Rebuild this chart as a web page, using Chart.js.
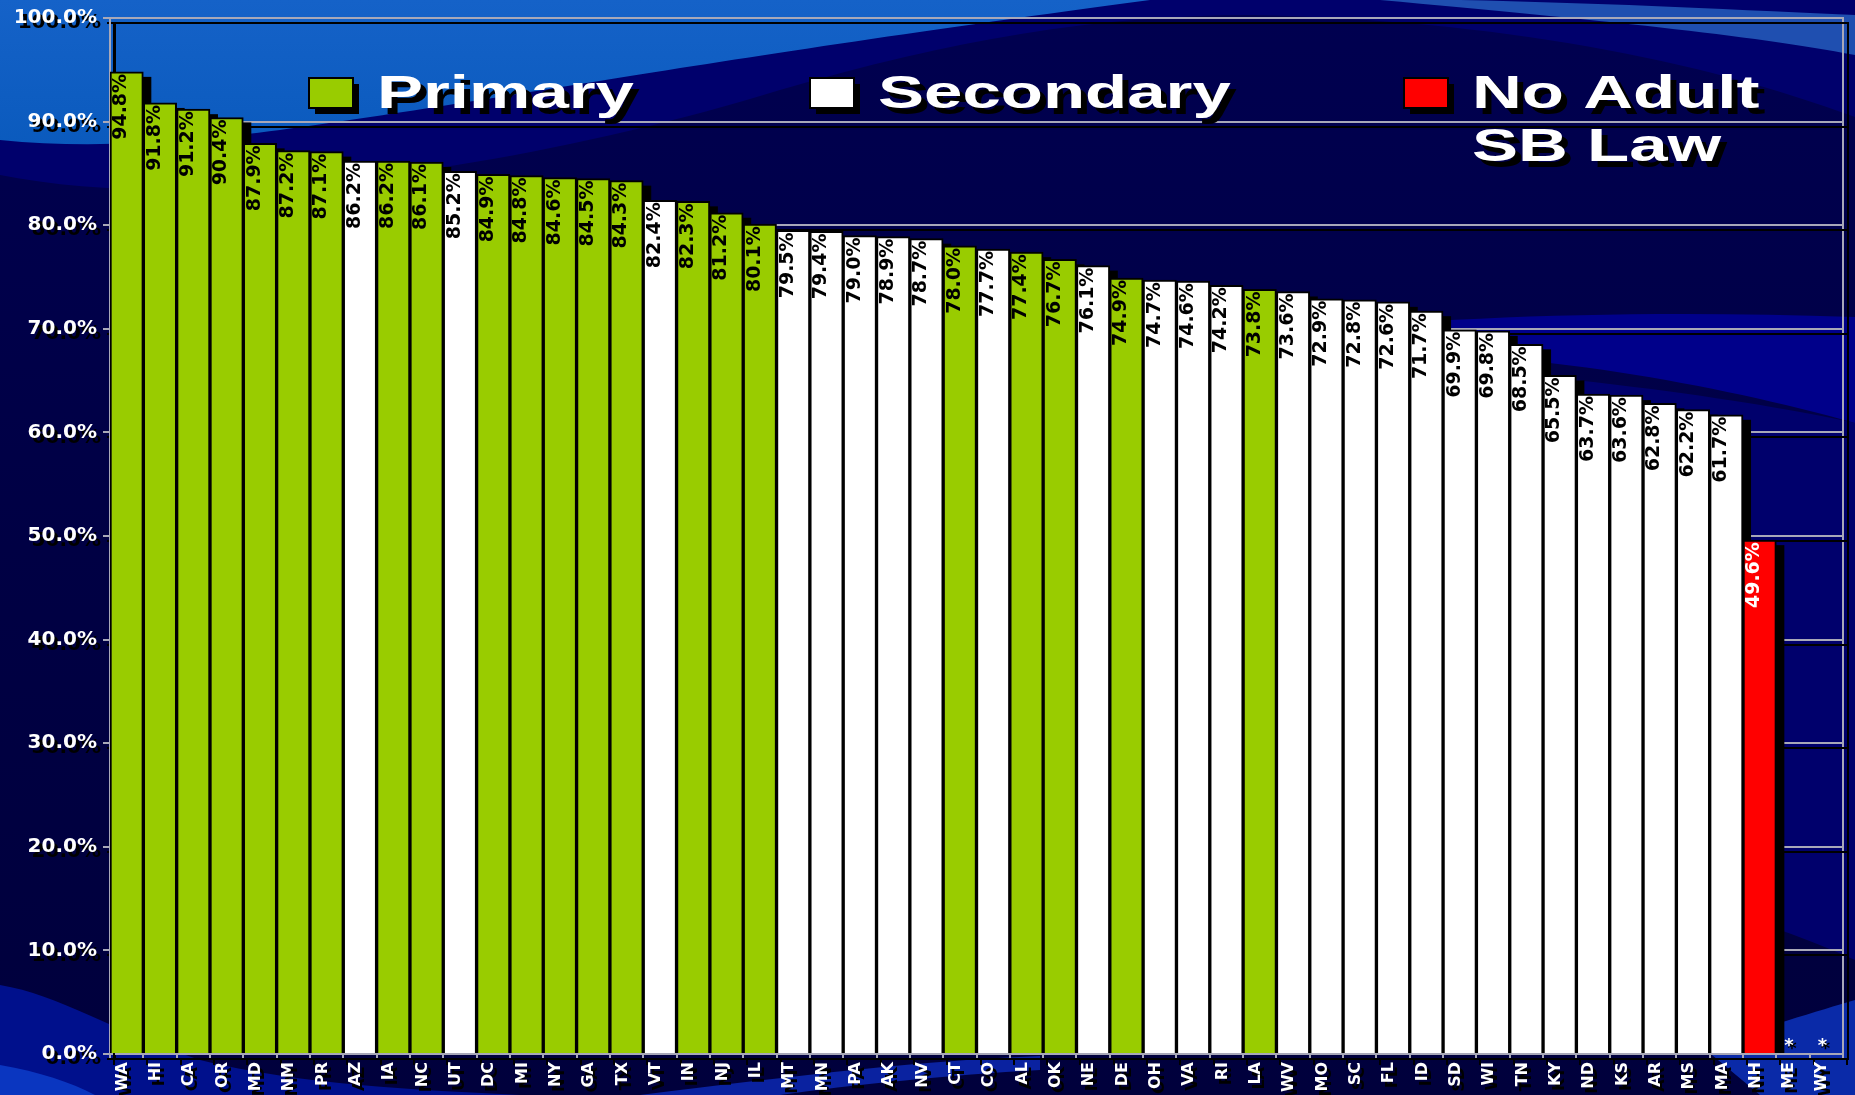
<!DOCTYPE html>
<html>
<head>
<meta charset="utf-8">
<script src="https://cdn.jsdelivr.net/npm/chart.js@4.4.1/dist/chart.umd.min.js"></script>
<style>
  html, body { margin: 0; padding: 0; background: #000044; }
  #wrap { width: 1855px; height: 1095px; position: relative; }
</style>
</head>
<body>
<div id="wrap"><canvas id="beltChart"></canvas></div>
<script>
// states, in the order shown (highest belt use first)
const states = ['WA','HI','CA','OR','MD','NM','PR','AZ','IA','NC','UT','DC','MI','NY','GA','TX',
  'VT','IN','NJ','IL','MT','MN','PA','AK','NV','CT','CO','AL','OK','NE','DE','OH','VA','RI','LA',
  'WV','MO','SC','FL','ID','SD','WI','TN','KY','ND','KS','AR','MS','MA','NH','ME','WY'];

// observed belt use, percent (ME and WY not reported)
const beltUse = [94.8, 91.8, 91.2, 90.4, 87.9, 87.2, 87.1, 86.2, 86.2, 86.1, 85.2, 84.9, 84.8, 84.6, 84.5, 84.3,
  82.4, 82.3, 81.2, 80.1, 79.5, 79.4, 79.0, 78.9, 78.7, 78.0, 77.7, 77.4, 76.7, 76.1, 74.9, 74.7, 74.6, 74.2, 73.8,
  73.6, 72.9, 72.8, 72.6, 71.7, 69.9, 69.8, 68.5, 65.5, 63.7, 63.6, 62.8, 62.2, 61.7, 49.6, null, null];

// kind of belt law in each state
const lawType = ['Primary','Primary','Primary','Primary','Primary','Primary','Primary','Secondary','Primary','Primary',
  'Secondary','Primary','Primary','Primary','Primary','Primary','Secondary','Primary','Primary','Primary',
  'Secondary','Secondary','Secondary','Secondary','Secondary','Primary','Secondary','Primary','Primary','Secondary',
  'Primary','Secondary','Secondary','Secondary','Primary','Secondary','Secondary','Secondary','Secondary','Secondary',
  'Secondary','Secondary','Secondary','Secondary','Secondary','Secondary','Secondary','Secondary','Secondary','None',
  'n/a','n/a'];

// legend entries (lines of text)
const legendNames = [['Primary'], ['Secondary'], ['No Adult', 'SB Law']];
const legendKeys = ['Primary', 'Secondary', 'None'];

const lawColors = { Primary: '#99cc00', Secondary: '#ffffff', None: '#ff0000', 'n/a': 'rgba(0,0,0,0)' };
const labelColors = { Primary: '#000000', Secondary: '#000000', None: '#ffffff' };

function paintBackdrop(ctx, w, h) {
  let g = ctx.createLinearGradient(0, 0, 0, h);
  g.addColorStop(0, '#000050');
  g.addColorStop(0.5, '#000044');
  g.addColorStop(1, '#00003c');
  ctx.fillStyle = g;
  ctx.fillRect(0, 0, w, h);

  // navy band across the top
  ctx.fillStyle = '#00006c';
  ctx.beginPath();
  ctx.moveTo(0, 0);
  ctx.lineTo(0, 175);
  ctx.bezierCurveTo(200, 215, 520, 170, 780, 90);
  ctx.bezierCurveTo(950, 40, 1100, 15, 1250, 15);
  ctx.bezierCurveTo(1500, 20, 1700, 60, w, 117);
  ctx.lineTo(w, 0);
  ctx.closePath();
  ctx.fill();

  // bright blue top-left
  g = ctx.createLinearGradient(0, 0, 0, 150);
  g.addColorStop(0, '#1562c8');
  g.addColorStop(1, '#0a5abd');
  ctx.fillStyle = g;
  ctx.beginPath();
  ctx.moveTo(0, 0);
  ctx.lineTo(0, 140);
  ctx.bezierCurveTo(100, 150, 200, 140, 280, 130);
  ctx.bezierCurveTo(500, 100, 700, 60, 1150, 0);
  ctx.closePath();
  ctx.fill();

  // light stripe top-right
  ctx.fillStyle = '#1f4fb0';
  ctx.beginPath();
  ctx.moveTo(1380, 0);
  ctx.bezierCurveTo(1600, 20, 1750, 35, w, 55);
  ctx.lineTo(w, 15);
  ctx.bezierCurveTo(1700, 8, 1600, 3, 1460, 0);
  ctx.closePath();
  ctx.fill();

  // blue wash down the right-hand side
  ctx.fillStyle = '#00006c';
  ctx.beginPath();
  ctx.moveTo(1300, 360);
  ctx.bezierCurveTo(1550, 370, 1750, 400, w, 423);
  ctx.lineTo(w, 960);
  ctx.bezierCurveTo(1800, 935, 1740, 915, 1680, 900);
  ctx.lineTo(1300, 900);
  ctx.closePath();
  ctx.fill();

  // sweeping band on the right
  ctx.fillStyle = '#00008a';
  ctx.beginPath();
  ctx.moveTo(950, 385);
  ctx.bezierCurveTo(1200, 330, 1500, 305, w, 317);
  ctx.lineTo(w, 423);
  ctx.bezierCurveTo(1700, 380, 1500, 345, 1300, 352);
  ctx.bezierCurveTo(1150, 358, 1050, 380, 950, 400);
  ctx.closePath();
  ctx.fill();

  // bottom-right wedge
  ctx.fillStyle = '#0a2aa8';
  ctx.beginPath();
  ctx.moveTo(1700, 1045);
  ctx.bezierCurveTo(1760, 1030, 1820, 1010, w, 1000);
  ctx.lineTo(w, h);
  ctx.lineTo(1760, h);
  ctx.closePath();
  ctx.fill();

  // bottom-left waves
  ctx.fillStyle = '#00108c';
  ctx.beginPath();
  ctx.moveTo(0, 985);
  ctx.bezierCurveTo(60, 995, 110, 1030, 200, 1060);
  ctx.bezierCurveTo(300, 1085, 420, 1090, 520, h);
  ctx.lineTo(0, h);
  ctx.closePath();
  ctx.fill();

  ctx.fillStyle = '#0a36c0';
  ctx.beginPath();
  ctx.moveTo(0, 1065);
  ctx.bezierCurveTo(40, 1072, 70, 1082, 95, h);
  ctx.lineTo(0, h);
  ctx.closePath();
  ctx.fill();

  // swoosh under the middle labels
  ctx.fillStyle = '#0a22a0';
  ctx.beginPath();
  ctx.moveTo(640, h);
  ctx.bezierCurveTo(800, 1075, 930, 1060, 1040, 1056);
  ctx.lineTo(1040, 1070);
  ctx.bezierCurveTo(950, 1075, 850, 1085, 780, h);
  ctx.closePath();
  ctx.fill();
}

const backdrop = {
  id: 'backdrop',
  beforeDraw(chart) {
    const ctx = chart.ctx;
    const a = chart.chartArea;
    ctx.save();
    paintBackdrop(ctx, chart.width, chart.height);
    ctx.restore();

    ctx.save();
    ctx.shadowColor = '#000';
    ctx.shadowOffsetX = 5;
    ctx.shadowOffsetY = 5;
    ctx.strokeStyle = '#a8a8b8';
    ctx.lineWidth = 2;
    ctx.strokeRect(a.left, a.top, a.right - a.left, a.bottom - a.top);
    ctx.restore();

    // scales (grid, ticks, labels) get a hard black drop shadow
    ctx.save();
    ctx.shadowColor = '#000';
    ctx.shadowBlur = 0;
    ctx.shadowOffsetX = 4;
    ctx.shadowOffsetY = 5;
  },
  beforeDatasetsDraw(chart) {
    const ctx = chart.ctx;
    ctx.restore();
    // black drop shadow behind every bar
    const meta = chart.getDatasetMeta(0);
    ctx.save();
    ctx.fillStyle = '#000000';
    meta.data.forEach((bar, i) => {
      if (beltUse[i] === null) return;
      const p = bar.getProps(['x', 'y', 'width', 'base'], true);
      ctx.fillRect(p.x - p.width / 2 + 8, p.y + 5, p.width, p.base - p.y - 5);
    });
    ctx.restore();
  }
};

const barLabels = {
  id: 'barLabels',
  afterDatasetsDraw(chart) {
    const ctx = chart.ctx;
    const meta = chart.getDatasetMeta(0);
    const xs = chart.scales.x, ys = chart.scales.y;
    ctx.save();
    meta.data.forEach((bar, i) => {
      const v = beltUse[i];
      const cx = xs.getPixelForValue(i);
      if (v === null) {
        ctx.save();
        ctx.font = 'bold 18px "DejaVu Sans"';
        ctx.fillStyle = '#ffffff';
        ctx.shadowColor = '#000';
        ctx.shadowOffsetX = 3;
        ctx.shadowOffsetY = 3;
        ctx.textAlign = 'center';
        ctx.textBaseline = 'alphabetic';
        ctx.fillText('*', cx - 4, ys.getPixelForValue(0) - 3);
        ctx.restore();
        return;
      }
      const left = bar.x - bar.width / 2;
      ctx.save();
      ctx.font = 'bold 19px "DejaVu Sans"';
      ctx.translate(left + 2, bar.y + 2);
      ctx.rotate(-Math.PI / 2);
      ctx.textAlign = 'right';
      ctx.textBaseline = 'top';
      ctx.fillStyle = labelColors[lawType[i]];
      ctx.fillText(v.toFixed(1) + '%', 0, 0);
      ctx.restore();
    });
    ctx.restore();
  }
};

const legendBox = {
  id: 'legendBox',
  afterDraw(chart) {
    const ctx = chart.ctx;
    const boxX = [309, 810, 1404];
    ctx.save();
    ctx.shadowColor = '#000';
    ctx.shadowBlur = 0;
    ctx.shadowOffsetX = 6;
    ctx.shadowOffsetY = 6;
    legendKeys.forEach((key, k) => {
      const x = boxX[k];
      ctx.fillStyle = lawColors[key];
      ctx.fillRect(x, 78, 44, 30);
      ctx.save();
      ctx.shadowColor = 'rgba(0,0,0,0)';
      ctx.strokeStyle = '#000';
      ctx.lineWidth = 2;
      ctx.strokeRect(x, 78, 44, 30);
      ctx.restore();
      ctx.font = 'bold 46px "Liberation Sans", Arial, sans-serif';
      ctx.fillStyle = '#ffffff';
      ctx.textBaseline = 'alphabetic';
      legendNames[k].forEach((line, j) => {
        ctx.save();
        ctx.translate(x + 68, 108 + j * 53);
        ctx.scale(1.5, 1);
        ctx.fillText(line, 0, 0);
        ctx.restore();
      });
    });
    ctx.restore();
  }
};

const tickFont = { family: 'DejaVu Sans', weight: 'bold' };

new Chart(document.getElementById('beltChart'), {
  type: 'bar',
  data: {
    labels: states,
    datasets: [{
      data: beltUse,
      backgroundColor: lawType.map(t => lawColors[t]),
      borderColor: '#000000',
      borderWidth: 2,
      barPercentage: 1,
      categoryPercentage: 1
    }]
  },
  options: {
    responsive: true,
    maintainAspectRatio: false,
    animation: false,
    layout: { padding: { left: 0, right: 12, top: 14, bottom: 0 } },
    plugins: {
      legend: { display: false },
      tooltip: { enabled: false }
    },
    scales: {
      x: {
        afterFit(scale) { scale.height = 41; },
        grid: { offset: true, drawOnChartArea: false, tickLength: 6, color: '#a8a8b8', lineWidth: 2 },
        border: { color: '#a8a8b8', width: 2 },
        ticks: {
          autoSkip: false,
          minRotation: 90,
          maxRotation: 90,
          padding: 2,
          labelOffset: -4,
          color: '#ffffff',
          font: Object.assign({ size: 16 }, tickFont)
        }
      },
      y: {
        min: 0,
        max: 100,
        afterFit(scale) { scale.width = 110; },
        grid: { color: '#a8a8b8', lineWidth: 2, tickLength: 7 },
        border: { color: '#a8a8b8', width: 2 },
        ticks: {
          stepSize: 10,
          padding: 6,
          color: '#ffffff',
          font: Object.assign({ size: 20 }, tickFont),
          callback: v => v.toFixed(1) + '%'
        }
      }
    }
  },
  plugins: [backdrop, barLabels, legendBox]
});
</script>
</body>
</html>
